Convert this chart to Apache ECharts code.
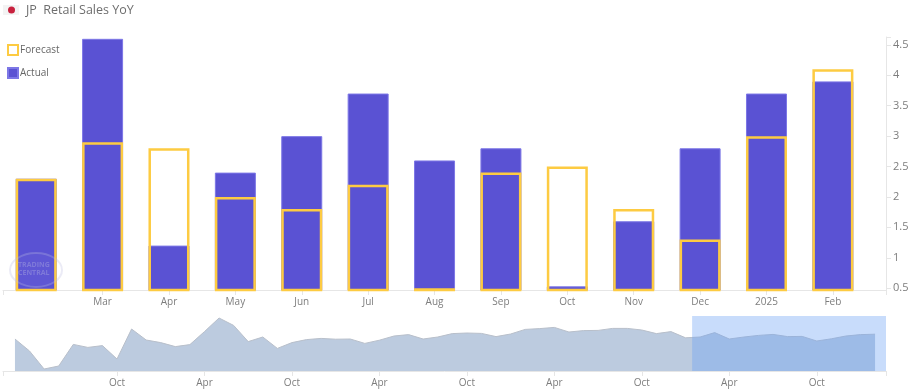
<!DOCTYPE html>
<html>
<head>
<meta charset="utf-8">
<script src="https://cdn.jsdelivr.net/npm/echarts@6/dist/echarts.min.js"></script>
<style>
  html, body { margin: 0; padding: 0; background: #fff; }
  #chart { width: 914px; height: 390px; }
</style>
</head>
<body>
<div id="chart"></div>
<script>
// first bar has no month label in the picture
const months = ['', 'Mar', 'Apr', 'May', 'Jun', 'Jul', 'Aug', 'Sep', 'Oct', 'Nov', 'Dec', '2025', 'Feb']
const actual = [2.3, 4.6, 1.2, 2.4, 3.0, 3.7, 2.6, 2.8, 0.53, 1.6, 2.8, 3.7, 3.9]
const forecast = [2.3, 2.9, 2.8, 2.0, 1.8, 2.2, 0.5, 2.4, 2.5, 1.8, 1.3, 3.0, 4.1]
const yLabels = [0.5, 1, 1.5, 2, 2.5, 3, 3.5, 4, 4.5]

// overview strip, one reading per month
const history = [
  1.5, -4.5, -13.5, -12, -1.2, -2.7, -1.8, -8.5, 6.5, 1,
  -0.3, -2.3, -1.3, 5.2, 12, 8.3, 0.2, 2.5, -3.2, -0.3,
  1.2, 1.8, 1.4, 1.5, -0.7, 0.9, 3, 3.7, 1.5, 2.5,
  4.2, 4.5, 4.3, 2.7, 4, 6.3, 6.7, 7.3, 5, 5.7,
  5.8, 6.8, 6.8, 6, 4.2, 5.2, 2.1, 2.5, 4.7, 1.5,
  2.5, 3.3, 3.8, 2.7, 2.8, 0.5, 1.6, 3, 3.7, 3.9
]
const historyTicks = { 7: 'Oct', 13: 'Apr', 19: 'Oct', 25: 'Apr', 31: 'Oct', 37: 'Apr', 43: 'Oct', 49: 'Apr', 55: 'Oct' }
const selection = [46.45, 59.95]

const axisGrey = '#e6e6e6'
const labelGrey = '#7d7d7d'
const font = '"Open Sans", sans-serif'

const myChart = echarts.init(document.getElementById('chart'), null, { renderer: 'canvas' })

const monthIdx = months.map((m, i) => i).filter(i => months[i] !== '')
const histIdx = Object.keys(historyTicks).map(Number)

const option = {
  animation: false,
  textStyle: { fontFamily: font },
  title: {
    text: 'JP  Retail Sales YoY',
    left: 26,
    top: 4,
    padding: 0,
    textStyle: { fontSize: 12.5, fontWeight: 'normal', color: '#6e6e6e', fontFamily: font }
  },
  legend: {
    orient: 'vertical',
    icon: 'rect',
    left: 7,
    top: 44,
    padding: 0,
    itemWidth: 10,
    itemHeight: 10,
    itemGap: 11,
    data: ['Forecast', 'Actual'],
    textStyle: { fontSize: 10, color: '#666', padding: [0, 0, 0, -3] }
  },
  grid: [
    { left: 3, right: 28, top: 37, bottom: 100 },
    { left: 3, right: 28, top: 316, bottom: 19 }
  ],
  xAxis: [
    {
      type: 'value',
      gridIndex: 0,
      min: -0.5,
      max: 12.8,
      splitLine: { show: false },
      axisLine: { onZero: false, lineStyle: { color: axisGrey } },
      axisTick: { length: 5, lineStyle: { color: axisGrey }, customValues: [-0.5].concat(monthIdx, [12.8]) },
      axisLabel: {
        customValues: monthIdx,
        formatter: v => months[v],
        color: labelGrey,
        fontSize: 10,
        margin: 7
      }
    },
    {
      type: 'value',
      gridIndex: 1,
      min: -0.82,
      max: 59.75,
      splitLine: { show: false },
      axisLine: { onZero: false, lineStyle: { color: axisGrey } },
      axisTick: { length: 5, lineStyle: { color: axisGrey }, customValues: [-0.82].concat(histIdx, [59.75]) },
      axisLabel: {
        customValues: histIdx,
        formatter: v => historyTicks[v],
        color: labelGrey,
        fontSize: 10,
        margin: 7
      }
    }
  ],
  yAxis: [
    {
      type: 'value',
      gridIndex: 0,
      position: 'right',
      min: 0.47,
      max: 4.63,
      splitLine: { show: false },
      axisLine: { show: true, onZero: false, lineStyle: { color: axisGrey } },
      axisTick: { show: true, length: 5, lineStyle: { color: axisGrey }, customValues: yLabels.concat([4.63]) },
      axisLabel: {
        customValues: yLabels,
        formatter: v => String(v),
        color: labelGrey,
        fontSize: 11,
        margin: 7
      }
    },
    {
      type: 'value',
      gridIndex: 1,
      min: -14.5,
      max: 13,
      show: false
    }
  ],
  series: [
    {
      name: 'Actual',
      type: 'bar',
      xAxisIndex: 0,
      yAxisIndex: 0,
      barWidth: 41,
      barGap: '-100%',
      data: actual.map((v, i) => [i, v]),
      itemStyle: { color: '#5a52d3', borderColor: '#7d77e6', borderWidth: 1 }
    },
    {
      name: 'Forecast',
      type: 'bar',
      xAxisIndex: 0,
      yAxisIndex: 0,
      barWidth: 41,
      barGap: '-100%',
      data: forecast.map((v, i) => [i, v]),
      itemStyle: { color: 'rgba(255,255,255,0)', borderColor: '#fdcb42', borderWidth: 2.5 }
    },
    {
      type: 'line',
      xAxisIndex: 1,
      yAxisIndex: 1,
      symbol: 'none',
      data: history.map((v, i) => [i, v]),
      lineStyle: { color: '#b8bfca', width: 1 },
      itemStyle: { color: '#b8bfca' },
      areaStyle: { color: '#bccbdf', opacity: 1, origin: 'start' },
      markArea: {
        silent: true,
        z: 5,
        itemStyle: { color: 'rgba(105,161,244,0.37)' },
        data: [[{ xAxis: selection[0], yAxis: -14.5 }, { xAxis: selection[1], yAxis: 13 }]]
      }
    }
  ],
  graphic: [
    // flag
    { type: 'rect', left: 3, top: 5, shape: { width: 16, height: 10 }, style: { fill: '#f3f3f3' } },
    { type: 'circle', left: 8, top: 6.5, shape: { r: 3.5 }, style: { fill: '#c8213e' } },
    // watermark
    { type: 'ellipse', left: 9, top: 252, z: 20, shape: { cx: 26, cy: 17, rx: 26, ry: 17 }, style: { fill: 'rgba(255,255,255,0.03)', stroke: 'rgba(190,190,225,0.3)', lineWidth: 2 } },
    { type: 'text', left: 18, top: 261, z: 20, style: { text: 'TRADING\nCENTRAL', fill: 'rgba(190,190,225,0.35)', font: 'bold 7px ' + font, lineHeight: 8 } }
  ]
}

myChart.setOption(option, true)
</script>
</body>
</html>
